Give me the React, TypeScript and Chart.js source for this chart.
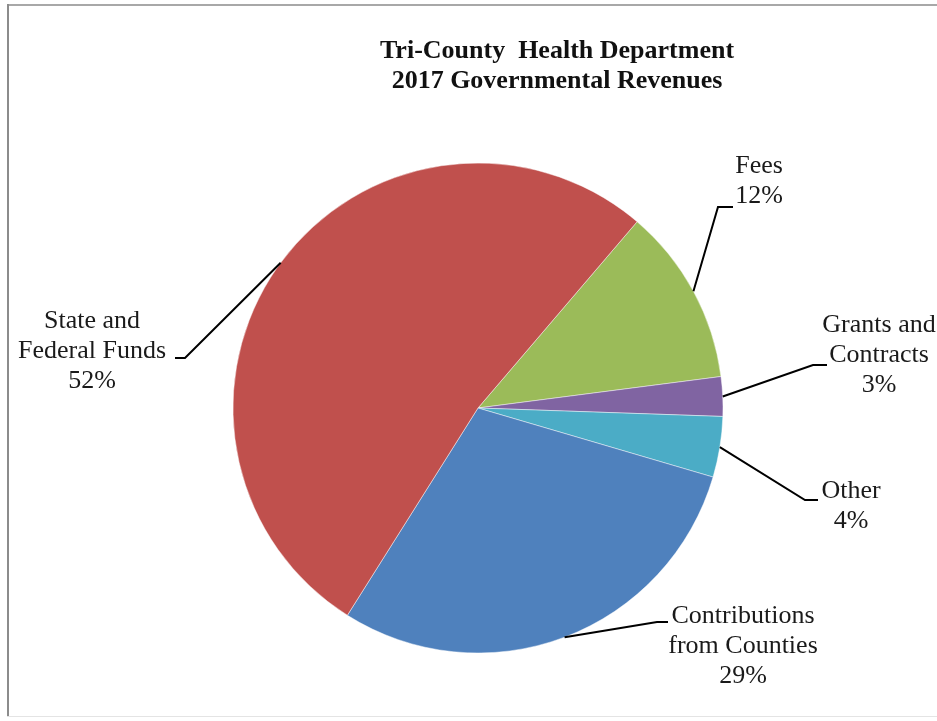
import { useEffect, useRef } from "react";
import { Chart, registerables } from "chart.js";

Chart.register(...registerables);

const TITLE_LINES = ["Tri-County  Health Department", "2017 Governmental Revenues"];
const CATEGORIES = [["Fees"], ["Grants and", "Contracts"], ["Other"], ["Contributions", "from Counties"], ["State and", "Federal Funds"]];
const VALUES = [11.7, 2.6, 4.0, 29.4, 52.3];
const COLORS = ["#9BBB59", "#8064A2", "#4BACC6", "#4F81BD", "#C0504D"];

// label placement (offsets from the pie centre), style only
const LABEL_LAYOUT = [
  { elbow: [240, -201], end: [255, -201], textX: 281, firstBaseline: -235 },
  { elbow: [335, -43], end: [349, -43], textX: 401, firstBaseline: -76 },
  { elbow: [327, 92], end: [340, 92], textX: 373, firstBaseline: 90 },
  { elbow: [179, 214], end: [190, 214], textX: 265, firstBaseline: 215 },
  { elbow: [-293, -50], end: [-303, -50], textX: -386, firstBaseline: -80 },
];
const LINE_H = 30;
const LABEL_FONT = "26px 'Liberation Serif', 'Times New Roman', serif";
const TITLE_FONT = "bold 26px 'Liberation Serif', 'Times New Roman', serif";

const framePlugin = {
  id: "frame",
  beforeDraw(chart: any) {
    const ctx = chart.ctx;
    ctx.save();
    ctx.fillStyle = "#ffffff";
    ctx.fillRect(0, 0, chart.width, chart.height);
    ctx.fillStyle = "#a8a8a8";
    ctx.fillRect(7, 4, chart.width, 2);
    ctx.fillStyle = "#8c8c8c";
    ctx.fillRect(7, 4, 2, 713);
    ctx.fillStyle = "#e4e4e4";
    ctx.fillRect(7, 716, chart.width, 1);
    ctx.restore();
  },
};

const labelPlugin = {
  id: "pieLabels",
  afterDatasetsDraw(chart: any) {
    const ctx = chart.ctx;
    const meta = chart.getDatasetMeta(0);
    const data = chart.data.datasets[0].data as number[];
    const total = data.reduce((a, b) => a + b, 0);
    ctx.save();
    meta.data.forEach((arc: any, i: number) => {
      const { x, y, startAngle, endAngle, outerRadius } = arc.getProps(["x", "y", "startAngle", "endAngle", "outerRadius"], true);
      const mid = (startAngle + endAngle) / 2;
      const sx = x + Math.cos(mid) * outerRadius;
      const sy = y + Math.sin(mid) * outerRadius;
      const L = LABEL_LAYOUT[i];
      ctx.strokeStyle = "#000000";
      ctx.lineWidth = 2;
      ctx.beginPath();
      ctx.moveTo(sx, sy);
      ctx.lineTo(x + L.elbow[0], y + L.elbow[1]);
      ctx.lineTo(x + L.end[0], y + L.end[1]);
      ctx.stroke();
      const lines = [...CATEGORIES[i], Math.round((data[i] / total) * 100) + "%"];
      ctx.fillStyle = "#1a1a1a";
      ctx.font = LABEL_FONT;
      ctx.textAlign = "center";
      ctx.textBaseline = "alphabetic";
      lines.forEach((t, k) => {
        ctx.fillText(t, x + L.textX, y + L.firstBaseline + k * LINE_H);
      });
    });
    // title
    const a0 = meta.data[0];
    ctx.fillStyle = "#111111";
    ctx.font = TITLE_FONT;
    ctx.textAlign = "center";
    TITLE_LINES.forEach((t, k) => {
      ctx.fillText(t, a0.x + 79, a0.y - 350 + k * 30);
    });
    ctx.restore();
  },
};

export default function App() {
  const ref = useRef<HTMLCanvasElement>(null);
  useEffect(() => {
    document.body.style.margin = "0";
    const chart = new Chart(ref.current as HTMLCanvasElement, {
      type: "pie",
      data: {
        labels: CATEGORIES.map((c) => c.join(" ")),
        datasets: [
          {
            data: VALUES,
            backgroundColor: COLORS,
            borderColor: "rgba(255,255,255,0.45)",
            borderWidth: 1,
            hoverOffset: 0,
          },
        ],
      },
      options: {
        responsive: false,
        animation: false,
        rotation: 40.5,
        radius: 245,
        layout: { padding: { left: 233, right: 214, top: 163, bottom: 68 } },
        plugins: {
          legend: { display: false },
          title: { display: false },
          tooltip: { enabled: false },
        },
        events: [],
      },
      plugins: [framePlugin, labelPlugin],
    });
    return () => chart.destroy();
  }, []);
  return (
    <div style={{ width: 937, height: 721 }}>
      <canvas ref={ref} width={937} height={721} style={{ display: "block" }} />
    </div>
  );
}
